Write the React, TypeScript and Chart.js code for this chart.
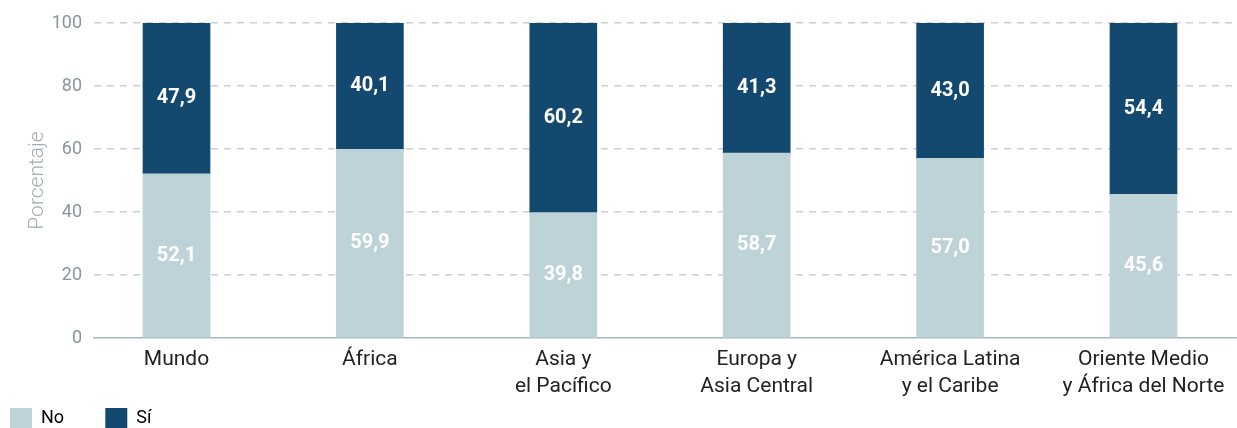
import React, { useEffect, useRef } from "react";
import { Chart, registerables } from "chart.js";

Chart.register(...registerables);

const categories: string[][] = [
  ["Mundo"],
  ["África"],
  ["Asia y", "el Pacífico"],
  ["Europa y", "Asia Central"],
  ["América Latina", "y el Caribe"],
  ["Oriente Medio", "y África del Norte"],
];
const noValues = [52.1, 59.9, 39.8, 58.7, 57.0, 45.6];
const siValues = [47.9, 40.1, 60.2, 41.3, 43.0, 54.4];
const yTicks = [0, 20, 40, 60, 80, 100];
const seriesNames = ["No", "Sí"];

const COLOR_NO = "#bdd3d8";
const COLOR_SI = "#13496f";
const FONT = "Roboto, 'Noto Sans', sans-serif";

const fmt = (v: number) => v.toFixed(1).replace(".", ",");

const valueLabels = {
  id: "valueLabels",
  afterDatasetsDraw(chart: any) {
    const ctx = chart.ctx;
    ctx.save();
    ctx.font = `bold 20px ${FONT}`;
    ctx.fillStyle = "#ffffff";
    ctx.textAlign = "center";
    ctx.textBaseline = "middle";
    chart.data.datasets.forEach((ds: any, di: number) => {
      const meta = chart.getDatasetMeta(di);
      meta.data.forEach((el: any, i: number) => {
        const { x, y, base } = el.getProps(["x", "y", "base"], true);
        ctx.fillText(fmt(ds.data[i].y), x, (y + base) / 2);
      });
    });
    ctx.restore();
  },
};

export default function App() {
  const ref = useRef<HTMLCanvasElement | null>(null);

  useEffect(() => {
    if (!ref.current) return;
    const chart = new Chart(ref.current, {
      type: "bar",
      data: {
        datasets: [
          {
            label: seriesNames[0],
            data: noValues.map((v, i) => ({ x: i, y: v })),
            backgroundColor: COLOR_NO,
            barThickness: 67,
          },
          {
            label: seriesNames[1],
            data: siValues.map((v, i) => ({ x: i, y: v })),
            backgroundColor: COLOR_SI,
            barThickness: 67,
          },
        ],
      },
      options: {
        animation: false,
        responsive: true,
        maintainAspectRatio: false,
        layout: { padding: { top: 23, bottom: -10, left: 0, right: 0 } },
        plugins: {
          tooltip: { enabled: false },
          legend: {
            position: "bottom",
            align: "start",
            labels: {
              boxWidth: 22,
              boxHeight: 20,
              padding: 10,
              color: "#444444",
              font: { family: FONT, size: 18 },
              generateLabels: (chart: any) =>
                chart.data.datasets.map((ds: any, i: number) => ({
                  text: i === 0 ? ds.label + "\u2003\u2002\u2009" : ds.label,
                  fillStyle: ds.backgroundColor,
                  strokeStyle: ds.backgroundColor,
                  lineWidth: 0,
                  hidden: false,
                  datasetIndex: i,
                })),
            },
          },
        },
        scales: {
          x: {
            type: "linear",
            stacked: true,
            min: -0.4266,
            max: 5.4835,
            offset: false,
            grid: { display: false, drawTicks: false },
            border: { display: true, color: "#a6b8be", width: 1.5 },
            afterFit: (scale: any) => {
              scale.height = 60;
            },
            ticks: {
              stepSize: 1,
              includeBounds: false,
              autoSkip: false,
              maxRotation: 0,
              minRotation: 0,
              padding: 8,
              color: "#222222",
              font: { family: FONT, size: 21, lineHeight: 1.3 },
              callback: (v: any) =>
                Number.isInteger(v) && categories[v] ? categories[v] : "",
            },
          },
          y: {
            stacked: true,
            min: yTicks[0],
            max: yTicks[yTicks.length - 1],
            afterFit: (scale: any) => {
              scale.width = 94;
            },
            afterBuildTicks: (scale: any) => {
              scale.ticks = yTicks.map((v) => ({ value: v }));
            },
            grid: {
              drawTicks: false,
              lineWidth: 1.5,
              color: (c: any) => (c.tick && c.tick.value === 0 ? "rgba(0,0,0,0)" : "#c9d0d3"),
            },
            border: { display: false, dash: [7, 6] },
            ticks: {
              padding: 12,
              color: "#8a969b",
              font: { family: FONT, size: 18 },
            },
            title: {
              display: true,
              text: "Porcentaje",
              color: "#a3adb2",
              font: { family: FONT, size: 21, weight: 300 },
              padding: { top: 25, bottom: 0 },
            },
          },
        },
      },
      plugins: [valueLabels],
    });
    return () => chart.destroy();
  }, []);

  return (
    <>
      <style>{`html,body{margin:0;padding:0;overflow:hidden;background:#fff}`}</style>
      <div style={{ position: "relative", width: 1237, height: 428 }}>
        <canvas ref={ref} />
      </div>
    </>
  );
}
